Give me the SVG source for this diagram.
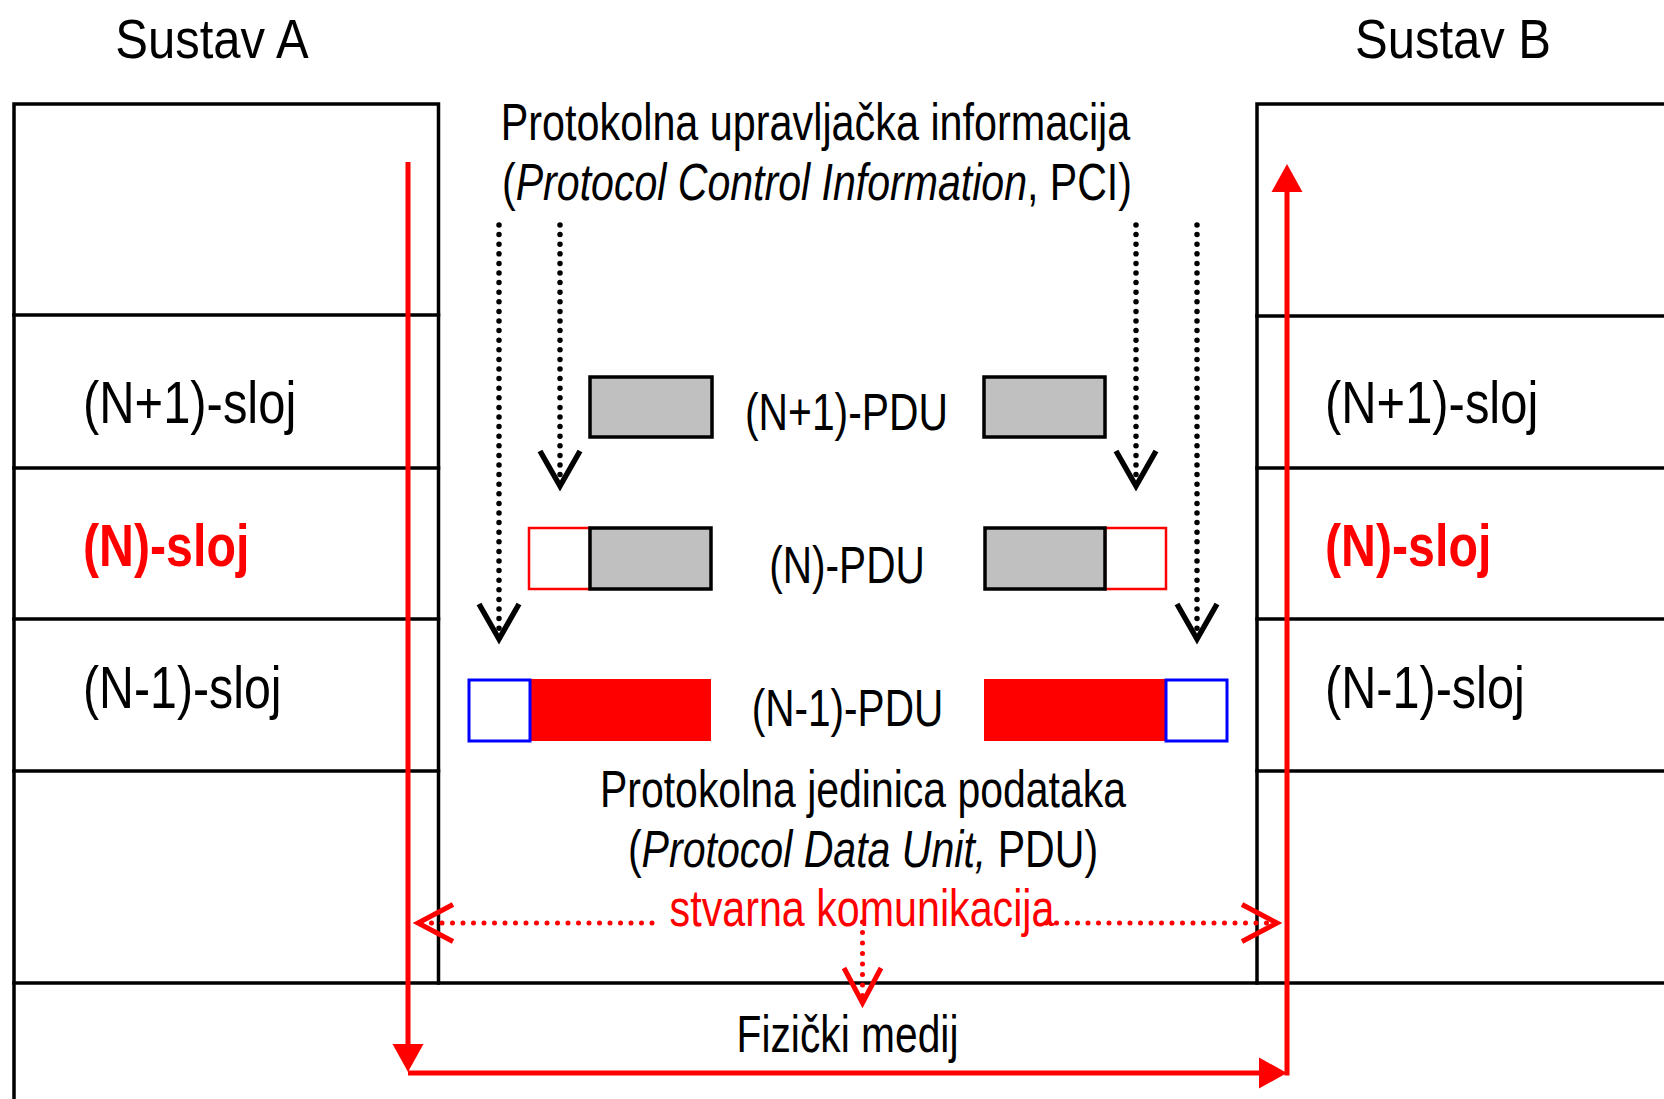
<svg xmlns="http://www.w3.org/2000/svg" width="1664" height="1099" viewBox="0 0 1664 1099">
<style>
.frame{fill:none;stroke:#000;stroke-width:3.5;stroke-linecap:square}
.t{font-family:"Liberation Sans",Arial,sans-serif;fill:#000}
.big{font-size:56px}
.lay{font-size:60px}
.mid{font-size:52px}
.red{fill:#ff0000}
.b{font-weight:bold}
.it{font-style:italic}
.pci{fill:#c0c0c0;stroke:#000;stroke-width:3.5}
.hdrR{fill:#fff;stroke:#ff0000;stroke-width:2.5}
.hdrB{fill:#fff;stroke:#0000ff;stroke-width:3}
.dataR{fill:#ff0000;stroke:none}
.dotK{fill:none;stroke:#000;stroke-width:5.5;stroke-linecap:round;stroke-dasharray:0 9.6}
.dotR{fill:none;stroke:#ff0000;stroke-width:5;stroke-linecap:round;stroke-dasharray:0 10.5}
.solR{fill:none;stroke:#ff0000;stroke-width:5}
</style>
<defs>
<marker id="chevK" markerUnits="userSpaceOnUse" markerWidth="60" markerHeight="60" viewBox="-45 -30 60 60" refX="0" refY="0" orient="auto" overflow="visible">
<path d="M-35,-20 L0,0 L-35,20" fill="none" stroke="#000" stroke-width="5.5" stroke-linejoin="miter"/>
</marker>
<marker id="chevR" markerUnits="userSpaceOnUse" markerWidth="60" markerHeight="60" viewBox="-45 -30 60 60" refX="0" refY="0" orient="auto" overflow="visible">
<path d="M-35,-18.5 L0,0 L-35,18.5" fill="none" stroke="#ff0000" stroke-width="5" stroke-linejoin="miter"/>
</marker>
<marker id="triR" markerUnits="userSpaceOnUse" markerWidth="40" markerHeight="40" viewBox="-5 -20 40 40" refX="0" refY="0" orient="auto" overflow="visible">
<path d="M0,-15.5 L28,0 L0,15.5 Z" fill="#ff0000" stroke="none"/>
</marker>
</defs>
<rect width="1664" height="1099" fill="#fff"/>

<g id="sustav-a">
<path class="frame" d="M14,1099 V104 H438.5 V983"/>
<path class="frame" d="M14,315 H438.5 M14,468 H438.5 M14,619 H438.5 M14,771 H438.5"/>
<text class="t big" text-anchor="middle" transform="translate(212,58) scale(0.875,1)">Sustav A</text>
<text class="t lay" transform="translate(83,423) scale(0.815,1)">(N+1)-sloj</text>
<text class="t lay red b" transform="translate(83,566) scale(0.805,1)">(N)-sloj</text>
<text class="t lay" transform="translate(83,708) scale(0.805,1)">(N-1)-sloj</text>
</g>

<g id="sustav-b">
<path class="frame" d="M1664,104 H1257 V983"/>
<path class="frame" d="M1257,316 H1664 M1257,468 H1664 M1257,619 H1664 M1257,771 H1664"/>
<text class="t big" text-anchor="middle" transform="translate(1453,58) scale(0.875,1)">Sustav B</text>
<text class="t lay" transform="translate(1325,423) scale(0.815,1)">(N+1)-sloj</text>
<text class="t lay red b" transform="translate(1325,566) scale(0.805,1)">(N)-sloj</text>
<text class="t lay" transform="translate(1325,708) scale(0.81,1)">(N-1)-sloj</text>
</g>

<g id="fizicki-medij">
<path class="frame" d="M14,983 H1664"/>
<text class="t mid" text-anchor="middle" transform="translate(847.5,1052) scale(0.784,1)">Fizički medij</text>
</g>

<g id="pci-label">
<text class="t mid" text-anchor="middle" transform="translate(815.5,140) scale(0.795,1)">Protokolna upravljačka informacija</text>
<text class="t mid" text-anchor="middle" transform="translate(817,200) scale(0.79,1)">(<tspan class="it">Protocol Control Information</tspan>, PCI)</text>
</g>

<g id="pdu-n1">
<rect class="pci" x="590" y="377" width="122" height="60"/>
<rect class="pci" x="984" y="377" width="121" height="60"/>
<text class="t mid" text-anchor="middle" transform="translate(846.5,430) scale(0.785,1)">(N+1)-PDU</text>
</g>

<g id="pdu-n">
<rect class="hdrR" x="529" y="528" width="61" height="61"/>
<rect class="pci" x="590" y="528" width="121" height="61"/>
<rect class="hdrR" x="1105" y="528" width="61" height="61"/>
<rect class="pci" x="985" y="528" width="120" height="61"/>
<text class="t mid" text-anchor="middle" transform="translate(847,583) scale(0.78,1)">(N)-PDU</text>
</g>

<g id="pdu-n-1">
<rect class="dataR" x="530" y="679" width="181" height="62"/>
<rect class="hdrB" x="469" y="680" width="61" height="61"/>
<rect class="dataR" x="984" y="679" width="182" height="62"/>
<rect class="hdrB" x="1166" y="680" width="61" height="61"/>
<text class="t mid" text-anchor="middle" transform="translate(847.5,726) scale(0.78,1)">(N-1)-PDU</text>
</g>

<g id="pdu-label">
<text class="t mid" text-anchor="middle" transform="translate(863,807) scale(0.788,1)">Protokolna jedinica podataka</text>
<text class="t mid" text-anchor="middle" transform="translate(863,867) scale(0.79,1)">(<tspan class="it">Protocol Data Unit,</tspan> PDU)</text>
</g>

<g id="stvarna-komunikacija">
<text class="t mid red" text-anchor="middle" transform="translate(862,926) scale(0.793,1)">stvarna komunikacija</text>
</g>

<g id="connectors">
<path class="dotK" d="M499,225 V639" marker-end="url(#chevK)"/>
<path class="dotK" d="M560,225 V486" marker-end="url(#chevK)"/>
<path class="dotK" d="M1136,225 V486" marker-end="url(#chevK)"/>
<path class="dotK" d="M1197,225 V639" marker-end="url(#chevK)"/>
<path class="dotR" d="M652,923 H418" marker-end="url(#chevR)"/>
<path class="dotR" d="M1046,923 H1277" marker-end="url(#chevR)"/>
<path class="dotR" d="M862.5,922 V1003" marker-end="url(#chevR)"/>
<path class="solR" d="M408,162 V1044" marker-end="url(#triR)"/>
<path class="solR" d="M408,1073 H1259" marker-end="url(#triR)"/>
<path class="solR" d="M1287,1075.5 V192" marker-end="url(#triR)"/>
</g>
</svg>
